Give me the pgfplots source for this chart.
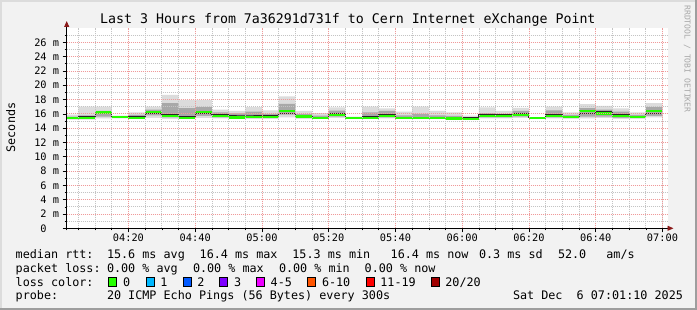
\documentclass[border=0pt]{standalone}
\usepackage{fontspec}
\setmainfont{DejaVu Sans Mono}
\usepackage{pgfplots}
\usepackage{pgfplotstable}
\pgfplotsset{compat=1.18}
\usetikzlibrary{arrows.meta}
\definecolor{bgc}{HTML}{F2F2F2}
\definecolor{shadeA}{HTML}{DCDCDC}
\definecolor{shadeB}{HTML}{9E9E9E}
\definecolor{gridminor}{HTML}{C4C4C4}
\definecolor{gridmajor}{HTML}{F09A9A}
\definecolor{smokeA}{HTML}{DCDCDC}
\definecolor{smokeB}{HTML}{A8A8A8}
\definecolor{medgreen}{HTML}{26FF00}
\definecolor{arrowred}{HTML}{8B1A1A}
\definecolor{wm}{HTML}{A8A8A8}
\definecolor{lc1}{HTML}{00B8FF}
\definecolor{lc2}{HTML}{0059FF}
\definecolor{lc3}{HTML}{7E00FF}
\definecolor{lc4}{HTML}{ED00FF}
\definecolor{lc5}{HTML}{FF5500}
\definecolor{lc6}{HTML}{FF0000}
\definecolor{lc7}{HTML}{A10000}
\newcommand{\lgfont}{\fontsize{11.76}{13}\selectfont}
\pgfplotstableread{
t lo q1 dk med q3 hi
0 15.20 15.30 15.50 15.40 15.60 15.90
5 15.20 15.30 15.62 15.42 15.80 17.00
10 15.35 15.60 15.98 16.20 16.40 17.00
15 15.35 15.45 15.50 15.52 15.65 15.75
20 15.25 15.35 15.60 15.42 15.85 16.20
25 15.45 15.80 16.05 16.28 16.60 17.00
30 15.30 15.50 15.95 15.68 17.50 18.65
35 15.25 15.35 15.60 15.45 16.80 17.90
40 15.40 15.70 16.10 16.30 16.95 17.90
45 15.35 15.50 15.95 15.72 16.20 16.60
50 15.25 15.35 15.70 15.48 16.05 16.40
55 15.25 15.40 15.70 15.52 16.30 16.95
60 15.25 15.40 15.75 15.58 16.00 16.50
65 15.50 15.90 16.10 16.40 17.40 18.45
70 15.30 15.45 15.75 15.62 15.95 16.40
75 15.25 15.35 15.55 15.40 15.75 16.10
80 15.40 15.60 16.10 15.88 16.45 16.90
85 15.30 15.35 15.45 15.40 15.50 15.60
90 15.25 15.35 15.60 15.42 16.20 17.00
95 15.35 15.50 15.88 15.70 16.40 16.75
100 15.25 15.35 15.55 15.42 15.80 16.30
105 15.25 15.35 15.55 15.42 16.00 17.00
110 15.25 15.32 15.50 15.38 15.80 16.40
115 15.22 15.30 15.48 15.36 15.70 16.20
120 15.22 15.28 15.42 15.33 15.55 15.75
125 15.35 15.50 15.85 15.70 16.10 16.90
130 15.35 15.50 15.85 15.72 16.00 16.40
135 15.40 15.60 16.05 15.85 16.40 16.85
140 15.30 15.35 15.45 15.40 15.50 15.55
145 15.35 15.50 15.95 15.75 16.50 17.00
150 15.30 15.40 15.68 15.55 15.85 16.20
155 15.35 15.60 16.10 16.35 16.80 17.35
160 15.40 15.60 16.28 16.05 16.60 17.10
165 15.30 15.45 15.85 15.65 16.30 16.75
170 15.30 15.40 15.65 15.52 15.85 16.20
175 15.50 15.70 16.10 16.40 16.95 17.50
180 15.50 15.70 16.10 16.40 16.95 17.50
}\smoke
\begin{document}
\begin{tikzpicture}
\fill[bgc] (0pt,0pt) rectangle (697pt,310pt);
\useasboundingbox (0pt,0pt) rectangle (697pt,310pt);
\fill[shadeA] (0pt,308pt) rectangle (697pt,310pt);
\fill[shadeA] (0pt,0pt) rectangle (2pt,310pt);
\fill[shadeB] (0pt,0pt) rectangle (697pt,2pt);
\fill[shadeB] (695pt,0pt) rectangle (697pt,310pt);
\begin{axis}[
  at={(66.7pt,81.7pt)}, anchor=south west,
  scale only axis, width=600.8pt, height=200.3pt,
  xmin=1.5, xmax=181.5, ymin=0, ymax=28,
  axis background/.style={fill=white},
  axis on top,
  axis line style={draw=none},
  tick pos=left, tick align=outside,
  major tick length=4pt, minor tick length=2pt,
  tick style={black, line width=0.6pt},
  xtick={20,40,...,180},
  xticklabels={04:20,04:40,05:00,05:20,05:40,06:00,06:20,06:40,07:00},
  minor xtick={5,10,...,180},
  ytick={0,2,...,26},
  yticklabels={0\phantom{ m},2 m,4 m,6 m,8 m,10 m,12 m,14 m,16 m,18 m,20 m,22 m,24 m,26 m},
  minor ytick={1,3,...,27},
  grid=both,
  major grid style={draw=gridmajor, dash pattern=on 1pt off 1pt, line width=0.7pt},
  minor grid style={draw=gridminor, dash pattern=on 1pt off 1pt, line width=0.7pt},
  ticklabel style={font=\fontsize{10.3}{12}\selectfont},
  xticklabel style={anchor=base, inner sep=0pt, yshift=-9.4pt},
  yticklabel style={anchor=east, inner sep=0pt, xshift=-3.4pt},
]
\addplot[const plot mark left, fill=smokeA, draw=none] table[x=t,y=hi]{\smoke} \closedcycle;
\addplot[const plot mark left, fill=smokeB, draw=none] table[x=t,y=q3]{\smoke} \closedcycle;
\addplot[const plot mark left, fill=smokeA, draw=none] table[x=t,y=q1]{\smoke} \closedcycle;
\addplot[const plot mark left, fill=white, draw=none] table[x=t,y=lo]{\smoke} \closedcycle;
\addplot[const plot mark left, draw=black!85, line width=1pt] table[x=t,y=dk]{\smoke};
\addplot[jump mark left, draw=medgreen, line width=2.2pt] table[x=t,y=med]{\smoke};
\end{axis}
% axis lines with arrows
\draw[black, line width=0.9pt, -{Triangle[length=6pt,width=5pt,color=arrowred]}] (66.7pt,79.5pt) -- (66.7pt,289pt);
\draw[black, line width=0.9pt, -{Triangle[length=6pt,width=5pt,color=arrowred]}] (64.5pt,81.7pt) -- (673.5pt,81.7pt);
% title
\node[anchor=base west, inner sep=0pt, font=\fontsize{13.27}{15}\selectfont] at (100pt,286pt) {Last 3 Hours from 7a36291d731f to Cern Internet eXchange Point};
% y label
\node[rotate=90, inner sep=0pt, font=\lgfont] at (10.8pt,182.5pt) {Seconds};
% watermark
\node[rotate=-90, inner sep=0pt, text=wm, font=\fontsize{8.1}{9}\selectfont] at (687.2pt,251pt) {RRDTOOL / TOBI OETIKER};
% legend
\begin{scope}[every node/.style={anchor=base west, inner sep=0pt, font=\lgfont}]
\node at (15.5pt,51.3pt) {median rtt:};
\node at (106.8pt,51.3pt) {15.6 ms avg};
\node at (199.5pt,51.3pt) {16.4 ms max};
\node at (292.2pt,51.3pt) {15.3 ms min};
\node at (390.5pt,51.3pt) {16.4 ms now};
\node at (478.8pt,51.3pt) {0.3 ms sd};
\node at (557.8pt,51.3pt) {52.0};
\node at (606.2pt,51.3pt) {am/s};
\node at (15.5pt,37.7pt) {packet loss:};
\node at (106.8pt,37.7pt) {0.00 \% avg};
\node at (192.8pt,37.7pt) {0.00 \% max};
\node at (278.8pt,37.7pt) {0.00 \% min};
\node at (364.5pt,37.7pt) {0.00 \% now};
\node at (15.5pt,23.7pt) {loss color:};
\node at (122.8pt,23.7pt) {0};
\node at (160.2pt,23.7pt) {1};
\node at (197.2pt,23.7pt) {2};
\node at (233.8pt,23.7pt) {3};
\node at (270.5pt,23.7pt) {4-5};
\node at (321.8pt,23.7pt) {6-10};
\node at (380.2pt,23.7pt) {11-19};
\node at (445.2pt,23.7pt) {20/20};
\node at (15.5pt,10pt) {probe:};
\node at (106.8pt,10pt) {20 ICMP Echo Pings (56 Bytes) every 300s};
\node at (512.8pt,10pt) {Sat Dec\ \ 6 07:01:10 2025};
\end{scope}
\begin{scope}[line width=0.7pt, draw=black]
\filldraw[fill=medgreen] (108.6pt,23.6pt) rectangle ++(8pt,8.6pt);
\filldraw[fill=lc1] (146pt,23.6pt) rectangle ++(8pt,8.6pt);
\filldraw[fill=lc2] (183pt,23.6pt) rectangle ++(8pt,8.6pt);
\filldraw[fill=lc3] (219.6pt,23.6pt) rectangle ++(8pt,8.6pt);
\filldraw[fill=lc4] (256.3pt,23.6pt) rectangle ++(8pt,8.6pt);
\filldraw[fill=lc5] (307.6pt,23.6pt) rectangle ++(8pt,8.6pt);
\filldraw[fill=lc6] (366pt,23.6pt) rectangle ++(8pt,8.6pt);
\filldraw[fill=lc7] (431pt,23.6pt) rectangle ++(8pt,8.6pt);
\end{scope}
\end{tikzpicture}
\end{document}
